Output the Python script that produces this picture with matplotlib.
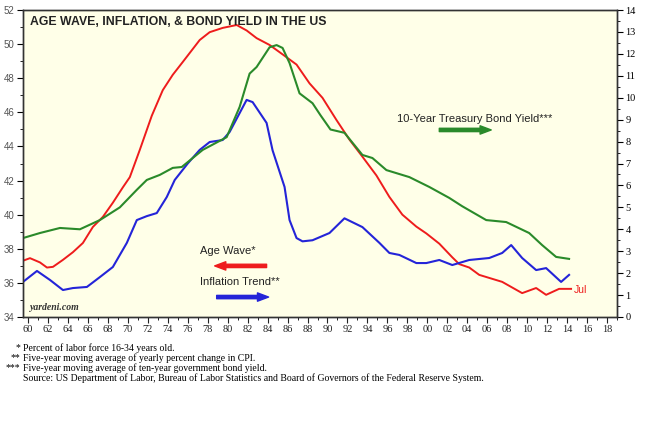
import matplotlib
matplotlib.use("Agg")
import matplotlib.pyplot as plt
from matplotlib.ticker import MultipleLocator, FuncFormatter

# Age Wave* (percent of labor force 16-34), left axis
age_years = [1959.5, 1960.2, 1961.2, 1961.9, 1962.5, 1963.5, 1964.5, 1965.5, 1966.5,
             1967.5, 1968.5, 1969.5, 1970.2, 1971.2, 1972.4, 1973.5, 1974.5, 1975.5,
             1977.2, 1978.2, 1979.5, 1980.9, 1981.9, 1982.9, 1984.2, 1985.5, 1986.9,
             1988.2, 1989.5, 1990.9, 1992.2, 1993.5, 1994.9, 1996.2, 1997.5, 1998.9,
             1999.9, 2001.2, 2002.5, 2003.2, 2004.2, 2005.2, 2007.5, 2009.5, 2010.9,
             2011.9, 2013.2, 2014.4]
age_wave = [37.3, 37.45, 37.2, 36.9, 36.94, 37.35, 37.8, 38.34, 39.28,
            39.87, 40.7, 41.6, 42.2, 43.8, 45.8, 47.3, 48.2, 48.95,
            50.24, 50.7, 50.95, 51.12, 50.8, 50.35, 49.95, 49.4, 48.8,
            47.7, 46.85, 45.55, 44.4, 43.4, 42.3, 41.04, 40.0, 39.3,
            38.9, 38.3, 37.5, 37.1, 36.9, 36.47, 36.06, 35.4, 35.7,
            35.3, 35.65, 35.65]

# Inflation Trend** (5-yr MA of CPI % change), right axis
inf_years = [1959.5, 1960.9, 1962.2, 1963.5, 1964.5, 1965.9, 1967.2, 1968.5, 1969.9,
             1970.9, 1971.9, 1972.9, 1973.9, 1974.7, 1976.0, 1977.2, 1978.2, 1979.5,
             1980.2, 1981.9, 1982.5, 1983.9, 1984.5, 1985.7, 1986.2, 1986.9,
             1987.5, 1988.5, 1990.2, 1991.7, 1993.5, 1995.2, 1996.2, 1997.2, 1998.9,
             1999.9, 2001.2, 2002.5, 2004.2, 2006.2, 2007.5, 2008.4, 2009.5, 2010.9,
             2011.9, 2013.4, 2014.2]
inflation = [1.6, 2.1, 1.69, 1.23, 1.32, 1.37, 1.82, 2.28, 3.38,
             4.42, 4.6, 4.74, 5.47, 6.25, 7.0, 7.62, 7.98, 8.07,
             8.44, 9.9, 9.8, 8.85, 7.6, 5.93, 4.42, 3.6,
             3.45, 3.5, 3.83, 4.5, 4.1, 3.38, 2.92, 2.83, 2.46,
             2.46, 2.6, 2.37, 2.6, 2.69, 2.92, 3.28, 2.69, 2.14,
             2.23, 1.6, 1.92]

# 10-Year Treasury Bond Yield*** (5-yr MA), right axis
bond_years = [1959.5, 1961.2, 1963.2, 1965.2, 1967.2, 1969.2, 1970.9, 1971.9, 1973.2,
              1974.5, 1975.4, 1977.5, 1979.9, 1981.2, 1982.2, 1982.9, 1984.2, 1984.9,
              1985.5, 1986.2, 1987.2, 1988.5, 1989.3, 1990.3, 1991.7, 1993.5, 1994.5,
              1995.9, 1998.2, 2000.2, 2002.2, 2003.5, 2005.9, 2007.9, 2010.2, 2011.5,
              2012.9, 2014.2]
bond_yield = [3.6, 3.83, 4.06, 4.0, 4.42, 5.0, 5.8, 6.25, 6.48,
              6.8, 6.84, 7.62, 8.2, 9.58, 11.1, 11.4, 12.3, 12.4,
              12.27, 11.58, 10.2, 9.75, 9.2, 8.55, 8.4, 7.39, 7.25,
              6.7, 6.38, 5.93, 5.43, 5.05, 4.42, 4.33, 3.83, 3.28,
              2.74, 2.65]

footnotes = ["Percent of labor force 16-34 years old.",
             "Five-year moving average of yearly percent change in CPI.",
             "Five-year moving average of ten-year government bond yield.",
             "Source: US Department of Labor, Bureau of Labor Statistics and Board of Governors of the Federal Reserve System."]
marks = ["*", "**", "***", ""]

RED = "#ee1c1c"
BLUE = "#2424d8"
GREEN = "#2a8a2a"
BG = "#ffffe8"
ARROW = "simple,head_width=0.6,head_length=0.8,tail_width=0.24"

fig = plt.figure(figsize=(6.46, 4.25), dpi=100)
ax = fig.add_axes([23 / 646, 1 - 317 / 425, 594 / 646, 307 / 425])
ax.set_facecolor(BG)
ax2 = ax.twinx()

ax.plot(age_years, age_wave, color=RED, lw=1.4)
ax2.plot(inf_years, inflation, color=BLUE, lw=1.5)
ax2.plot(bond_years, bond_yield, color=GREEN, lw=1.5)

ax.set_xlim(1959.5, 2019)
ax.set_ylim(34, 52)
ax2.set_ylim(0, 14)

ax.xaxis.set_major_locator(MultipleLocator(2))
ax.xaxis.set_minor_locator(MultipleLocator(1))
ax.xaxis.set_major_formatter(FuncFormatter(lambda v, p: "%02d" % (int(round(v)) % 100)))
ax.yaxis.set_major_locator(MultipleLocator(2))
ax.yaxis.set_minor_locator(MultipleLocator(1))
ax2.yaxis.set_major_locator(MultipleLocator(1))
ax2.yaxis.set_minor_locator(MultipleLocator(0.5))

ax.tick_params(axis="x", which="major", length=4, labelsize=7.5, colors="#222222", pad=2)
ax.tick_params(axis="x", which="minor", length=2)
ax.tick_params(axis="y", which="major", length=4, labelsize=7, labelcolor="#555555", pad=2)
ax.tick_params(axis="y", which="minor", length=2)
ax2.tick_params(axis="y", which="major", length=4, labelsize=7.5, pad=2)
ax2.tick_params(axis="y", which="minor", length=2)
for lab in ax.get_xticklabels() + ax2.get_yticklabels():
    lab.set_fontfamily("Liberation Serif")
for lab in ax.get_yticklabels():
    lab.set_fontfamily("Liberation Sans")
for a in (ax, ax2):
    for s in a.spines.values():
        s.set_linewidth(1.0)
        s.set_color("#333333")

ax.text(0.012, 0.962, "AGE WAVE, INFLATION, & BOND YIELD IN THE US", transform=ax.transAxes,
        fontsize=8.8, fontweight="bold", family="Liberation Sans", color="#222222",
        va="center", ha="left")
ax.text(0.012, 0.03, "yardeni.com", transform=ax.transAxes, fontsize=7,
        style="italic", fontweight="bold", family="Liberation Serif", color="#333333",
        va="center", ha="left")

ax2.text(1997, 9.03, "10-Year Treasury Bond Yield***", fontsize=8,
         family="Liberation Sans", color="#222222", va="center", ha="left")
ax2.annotate("", xy=(2006.4, 8.53), xytext=(2001.2, 8.53),
             arrowprops=dict(arrowstyle=ARROW, color=GREEN, mutation_scale=10,
                             shrinkA=0, shrinkB=0))
ax2.text(1977.2, 3.01, "Age Wave*", fontsize=8, family="Liberation Sans",
         color="#222222", va="center", ha="left")
ax2.annotate("", xy=(1978.7, 2.33), xytext=(1983.9, 2.33),
             arrowprops=dict(arrowstyle=ARROW, color=RED, mutation_scale=10,
                             shrinkA=0, shrinkB=0))
ax2.text(1977.2, 1.6, "Inflation Trend**", fontsize=8, family="Liberation Sans",
         color="#222222", va="center", ha="left")
ax2.annotate("", xy=(1984.1, 0.91), xytext=(1978.9, 0.91),
             arrowprops=dict(arrowstyle=ARROW, color=BLUE, mutation_scale=10,
                             shrinkA=0, shrinkB=0))
ax2.text(2014.7, 1.23, "Jul", fontsize=7.5, family="Liberation Sans", color=RED,
         va="center", ha="left")

for i, (m, t) in enumerate(zip(marks, footnotes)):
    y = 1 - (348 + 10 * i) / 425
    fig.text(20 / 646, y, m, fontsize=7, family="Liberation Serif", ha="right", va="center")
    fig.text(23 / 646, y, t, fontsize=7, family="Liberation Serif", ha="left", va="center")

fig.savefig("out.png", dpi=100, facecolor="white")
